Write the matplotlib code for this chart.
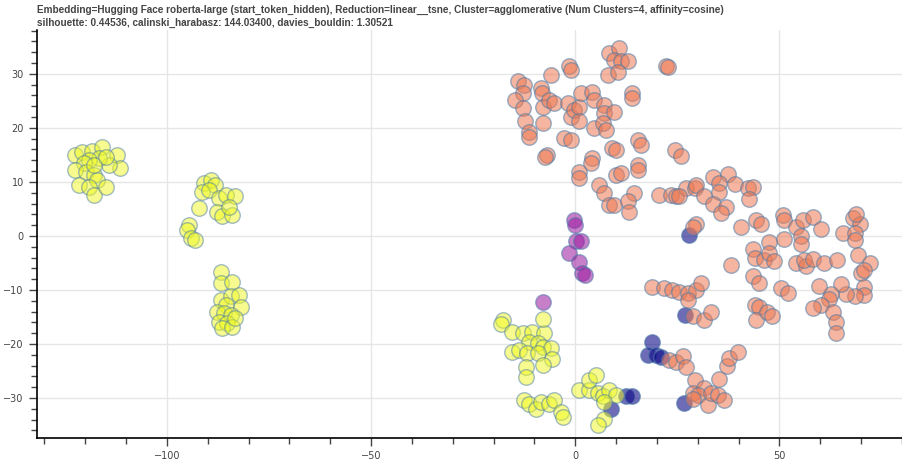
"""
Scatter des clusters (tsne) - recreation du graphique bokeh.
"""
import matplotlib
matplotlib.use("Agg")
import matplotlib.pyplot as plt
from matplotlib.ticker import MultipleLocator
import numpy as np

TITLE = ("Embedding=Hugging Face roberta-large (start_token_hidden), Reduction=linear__tsne, "
         "Cluster=agglomerative (Num Clusters=4, affinity=cosine)\n"
         "silhouette: 0.44536, calinski_harabasz: 144.03400, davies_bouldin: 1.30521")

# cluster 3 (jaune)
yellow_x = [-122.4, -120.8, -118.3, -115.9, -112.2, -111.4, -114.2, -116.7, -119.1, -120.3,
            -122.4, -119.9, -117.9, -117.1, -121.6, -119.1, -117.9, -115.0, -117.9, -115.0,
            -90.9, -89.3, -88.1, -91.3, -89.7, -92.2, -87.3, -85.6, -83.2, -87.7,
            -86.4, -84.0, -84.8, -94.6, -95.0, -94.2, -93.0,
            -86.8, -86.8, -84.0, -86.8, -84.4, -82.4, -85.6, -81.9, -87.7, -86.0,
            -84.4, -87.3, -85.2, -86.4, -84.0, -83.2,
            -17.6, -18.2, -15.4, -12.9, -10.5, -7.6, -7.8, -11.3, -9.2, -8.0,
            -6.0, -15.4, -13.7, -11.7, -9.2, -5.6, -8.0, -12.1, -12.1,
            -12.5, -11.4, -9.6, -8.4, -6.4, -5.1, -3.5, -2.9,
            1.0, 3.4, 3.4, 5.1, 5.5, 6.7, 8.3, 10.0, 7.1, 7.1, 5.5]
yellow_y = [15.0, 15.6, 15.7, 16.4, 14.9, 12.5, 13.1, 14.4, 14.1, 13.5,
            12.2, 11.9, 11.3, 10.4, 9.4, 9.1, 7.6, 9.1, 13.1, 14.7,
            9.8, 10.4, 9.4, 8.2, 8.5, 5.1, 7.0, 7.6, 7.3, 4.5,
            3.6, 3.9, 5.4, 2.0, 1.1, -0.4, -0.7,
            -6.6, -8.8, -8.5, -11.9, -11.2, -10.9, -12.8, -13.1, -14.0, -14.3,
            -14.6, -15.9, -16.2, -17.1, -16.8, -15.2,
            -15.6, -16.3, -17.7, -18.0, -17.7, -18.0, -15.4, -19.6, -19.9, -20.5,
            -20.8, -21.4, -21.1, -21.7, -21.7, -22.7, -23.9, -24.2, -26.1,
            -30.4, -31.1, -32.1, -30.7, -31.1, -30.4, -32.5, -33.6,
            -28.5, -28.5, -26.7, -25.7, -29.0, -29.7, -28.5, -29.4, -30.7, -33.8, -35.0]

# cluster 2 (orange)
orange_x = [-14.1, -12.5, -12.9, -14.7, -12.9, -12.3, -11.4, -11.3, -8.4, -8.2,
            -6.0, -8.0, -8.0, -6.4, -5.1, -1.5, -1.1, -1.9, -1.1, -0.2,
            1.0, 1.4, 1.0, 4.2, 4.7, 4.7, 7.1, 7.1, 6.7, 7.5,
            9.6, -2.7, -1.1, -6.8, -7.4, 8.3, 10.8, 9.6, 11.2, 12.8,
            7.9, 10.4, 14.0, 14.0, 9.1, 10.0, 15.3, 16.1, 4.2, 3.8,
            22.2, 22.6, 24.3, 25.9,
            1.0, 1.0, 5.9, 7.1, 8.3, 9.6, 10.0, 11.2, 15.3, 15.3,
            14.5, 12.8, 13.2, 20.6, 23.5, 24.7, 27.1, 29.2, 29.6, 25.5,
            31.6, 33.7, 37.3, 35.3, 39.0, 35.3, 33.7, 36.9, 35.7, 29.6,
            28.9, 42.2, 43.5, 42.5,
            40.6, 44.3, 45.5, 50.8, 51.2, 54.1, 55.7, 58.2, 60.2, 55.3,
            51.2, 55.3, 47.5, 43.5, 43.9, 46.3, 47.5, 48.6, 54.1, 56.4,
            56.1, 58.2, 60.8, 64.1, 65.5, 68.0, 69.6, 68.4, 68.4, 69.2,
            72.2, 70.0, 70.8, 70.8, 70.8, 68.4, 66.3, 65.1, 62.7, 62.1,
            60.2, 58.2, 63.1, 63.9, 63.9, 59.6, 38.2, 43.6, 45.1, 50.4,
            52.0, 43.9, 45.1, 44.3, 46.9, 48.2, 68.8,
            18.9, 21.8, 23.8, 25.5, 27.5, 29.6, 30.8, 27.5, 28.8, 31.6,
            33.3, 23.0, 24.7, 26.3, 27.1, 29.2, 28.8, 31.6, 30.0, 32.4,
            28.8, 33.3, 34.9, 36.5, 35.3, 37.1, 37.7, 39.8]
orange_y = [28.6, 28.0, 26.4, 25.2, 23.6, 21.2, 19.3, 18.4, 27.3, 26.5,
            29.8, 23.9, 20.9, 25.2, 24.6, 31.4, 30.7, 24.6, 22.1, 23.3,
            23.9, 26.4, 21.2, 26.7, 25.2, 19.9, 24.3, 22.7, 20.9, 19.6,
            23.0, 18.1, 17.8, 15.0, 14.7, 33.8, 34.8, 32.6, 32.3, 32.3,
            29.8, 30.4, 26.4, 25.5, 16.2, 15.9, 17.8, 16.9, 14.4, 13.5,
            31.5, 31.3, 15.9, 14.8,
            11.9, 10.7, 9.4, 7.9, 5.7, 5.7, 11.3, 11.6, 13.1, 12.2,
            7.9, 6.4, 4.5, 7.6, 7.6, 7.3, 8.8, 8.8, 9.4, 7.3,
            7.3, 11.0, 11.5, 9.8, 9.6, 8.2, 6.0, 5.4, 4.2, 2.3,
            1.6, 8.8, 9.0, 6.8,
            1.7, 3.0, 2.2, 3.9, 3.0, 1.6, 3.0, 3.5, 1.2, -0.1,
            -0.6, -1.5, -1.2, -2.5, -4.1, -4.4, -3.2, -4.6, -5.1, -5.6,
            -4.4, -4.3, -5.1, -4.4, 0.5, 3.3, 2.3, 0.5, -0.7, -3.5,
            -5.1, -6.9, -6.3, -9.4, -10.9, -11.2, -10.7, -8.9, -10.7, -11.7,
            -12.8, -13.4, -14.0, -15.9, -18.0, -9.3, -5.4, -7.5, -8.8, -9.7,
            -10.6, -12.8, -13.1, -15.6, -14.0, -14.9, 4.0,
            -9.4, -9.7, -10.0, -10.3, -10.6, -10.0, -8.8, -11.9, -14.8, -15.6,
            -14.1, -23.0, -23.3, -22.2, -24.3, -26.7, -29.1, -28.2, -29.4, -31.3,
            -30.1, -29.1, -29.4, -30.4, -26.4, -24.1, -22.6, -21.4]

# cluster 1 (violet)
purple_x = [-0.2, 0.0, 0.2, 1.4, -1.5, 1.0, 1.6, 2.3, -8.0]
purple_y = [3.0, 2.0, -1.0, -0.9, -3.2, -4.8, -6.9, -7.2, -12.3]

# cluster 0 (bleu)
blue_x = [27.8, 26.9, 18.9, 17.7, 19.8, 21.0, 8.8, 12.4, 14.0, 26.7]
blue_y = [0.2, -14.7, -19.6, -22.0, -22.0, -22.5, -32.1, -29.7, -29.7, -31.0]

groups = [
    (blue_x, blue_y, "#0d0887", 0.6),
    (purple_x, purple_y, "#9c179e", 0.55),
    (orange_x, orange_y, "#ed7953", 0.55),
    (yellow_x, yellow_y, "#f0f921", 0.5),
]

fig = plt.figure(figsize=(9.02, 4.63), dpi=100)
ax = fig.add_axes([0.041, 0.054, 0.959, 0.881])

for xs, ys, color, alpha in groups:
    ax.scatter(xs, ys, s=125, c=color, alpha=alpha,
               edgecolors="#4a7aa8", linewidths=1.0, zorder=3)

ax.set_xlim(-131.8, 80)
ax.set_ylim(-37.4, 38.1)
ax.xaxis.set_major_locator(MultipleLocator(50))
ax.xaxis.set_minor_locator(MultipleLocator(10))
ax.yaxis.set_major_locator(MultipleLocator(10))
ax.yaxis.set_minor_locator(MultipleLocator(2))
ax.grid(True, which="major", color="#e6e6e6", linewidth=1, zorder=0)
ax.set_axisbelow(True)

for side in ["top", "right"]:
    ax.spines[side].set_visible(False)
for side in ["left", "bottom"]:
    ax.spines[side].set_linewidth(1.2)
ax.tick_params(which="major", length=6, width=1, labelsize=7, colors="#444444")
ax.tick_params(which="minor", length=4, width=1, color="#444444")
ax.tick_params(axis="both", labelcolor="#444444")

fig.text(0.041, 0.99, TITLE, ha="left", va="top", fontsize=7.2, fontweight="bold",
         color="#444444", family=["Liberation Sans", "DejaVu Sans"],
         linespacing=1.45)

plt.savefig("out.png", dpi=100)
print("Figure sauvegardee : out.png")
